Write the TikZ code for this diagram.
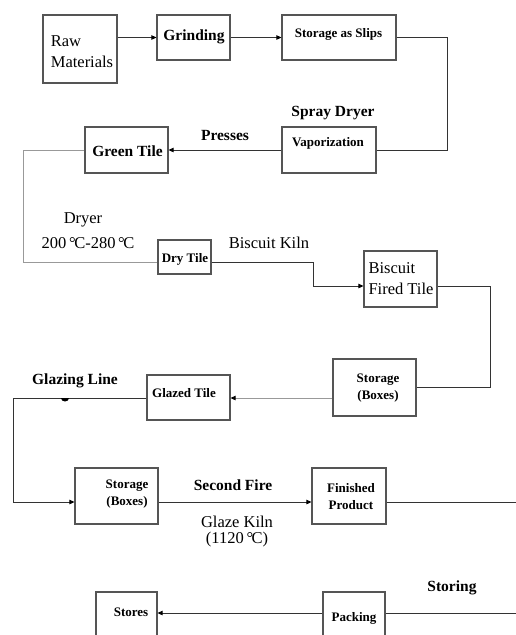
\documentclass[tikz,border=0pt]{standalone}
\usepackage{fontspec}
\setmainfont{Liberation Serif}
\usetikzlibrary{arrows.meta}
\definecolor{boxgray}{HTML}{555555}
\definecolor{linegray}{HTML}{333333}
\definecolor{lightline}{HTML}{999999}
\begin{document}
\begin{tikzpicture}[x=1pt,y=-1pt,
  box/.style={draw=boxgray, line width=1.2pt, inner sep=0pt},
  conn/.style={draw=linegray, line width=1pt},
  lightconn/.style={draw=lightline, line width=1pt},
  arr/.style={-{Triangle[length=5pt,width=4.5pt,color=black]}},
  reg/.style={font=\fontsize{16.5}{21}\selectfont},
  bigb/.style={font=\fontsize{15.5}{20}\selectfont\bfseries},
  smallb/.style={font=\fontsize{13}{17}\selectfont\bfseries},
  txt/.style={inner sep=0pt, align=center, text=black}
]
\useasboundingbox (0,0) rectangle (516,635);
\clip (0,0) rectangle (516,635);
\fill[white] (0,0) rectangle (516,635);

% boxes
\node[box, minimum width=74pt, minimum height=68pt] (raw) at (80,49) {};
\node[box, minimum width=73pt, minimum height=45pt] (grind) at (193.5,37.5) {};
\node[box, minimum width=114pt, minimum height=45pt] (slips) at (339,37.5) {};
\node[box, minimum width=94pt, minimum height=46pt] (vap) at (329,150) {};
\node[box, minimum width=83pt, minimum height=46pt] (green) at (126.5,150) {};
\node[box, minimum width=53pt, minimum height=34pt] (dry) at (184.5,257) {};
\node[box, minimum width=73pt, minimum height=56pt] (bft) at (400.5,279) {};
\node[box, minimum width=83pt, minimum height=57pt] (stor1) at (374.5,387.5) {};
\node[box, minimum width=83pt, minimum height=45pt] (glazed) at (188.5,397.5) {};
\node[box, minimum width=83pt, minimum height=56pt] (stor2) at (116.5,496) {};
\node[box, minimum width=74pt, minimum height=56pt] (fin) at (349,496) {};
\node[box, minimum width=61pt, minimum height=68pt] (stores) at (126.5,626) {};
\node[box, minimum width=62pt, minimum height=68pt] (pack) at (354,626) {};

% box texts
\node[txt, reg, align=left] (traw) at (82,51.5) {Raw\\Materials};
\node[txt, bigb] (tgrind) at (194,37) {Grinding};
\node[txt, smallb] (tslips) at (338.5,34) {Storage as Slips};
\node[txt, smallb] (tvap) at (328,143) {Vaporization};
\node[txt, bigb] (tgreen) at (127.5,151) {Green Tile};
\node[txt, smallb] (tdry) at (185,259) {Dry Tile};
\node[txt, reg, align=left] (tbft) at (401,278.5) {Biscuit\\Fired Tile};
\node[txt, smallb] (tstor1) at (378,388.5) {Storage\\(Boxes)};
\node[txt, smallb] (tglazed) at (184,393) {Glazed Tile};
\node[txt, smallb] (tstor2) at (127,494) {Storage\\(Boxes)};
\node[txt, smallb] (tfin) at (351,496.5) {Finished\\Product};
\node[txt, smallb] (tstores) at (131,612) {Stores};
\node[txt, smallb] (tpack) at (354,618) {Packing};

% labels
\node[txt, bigb] (lspray) at (333,113) {Spray Dryer};
\node[txt, bigb] (lpress) at (225,135) {Presses};
\node[txt, reg] (ldryer) at (83,220) {Dryer};
\node[txt, reg] (ltemp) at (88,243) {200\,°\kern-1.5pt C-280\,°\kern-1.5pt C};
\node[txt, reg] (lbk) at (269,243) {Biscuit Kiln};
\node[txt, bigb] (lglazing) at (75,381) {Glazing Line};
\node[txt, bigb] (lsecond) at (233,485) {Second Fire};
\node[txt, reg] (lgk) at (237,522) {Glaze Kiln};
\node[txt, reg] (ltemp2) at (237,540) {(1120\,°\kern-1.5pt C)};
\node[txt, bigb] (lstoring) at (452,588) {Storing};

% connector corners
\coordinate (c1) at (447,37.5);
\coordinate (c2) at (23,262);
\coordinate (c3) at (313,286);
\coordinate (c4) at (490,387);
\coordinate (c5) at (13,398);
\coordinate (c6) at (13,502);
\coordinate (e1) at (516,502);
\coordinate (e2) at (516,613);
\coordinate (dot) at (65,398);

% connectors
\draw[conn,arr] (raw.east |- grind.west) -- (grind.west);
\draw[conn,arr] (grind) -- (slips);
\draw[conn] (slips.east) -- (c1) |- (vap.east);
\draw[conn,arr] (vap) -- (green);
\draw[lightconn] (green.west) -| (c2) -- (dry.west |- c2);
\draw[conn,arr] (dry.east |- c2) -| (c3) -- (bft.west |- c3);
\draw[conn] (bft.east |- c3) -| (c4) -- (stor1.east |- c4);
\draw[lightconn,arr] (stor1.west |- c5) -- (glazed.east |- c5);
\draw[conn,arr] (glazed.west |- c5) -- (c5) -- (c6) -- (stor2.west |- c6);
\fill[black] (dot) ++(-4,0) arc[start angle=180, end angle=0, x radius=4, y radius=3.5] -- cycle;
\draw[conn,arr] (stor2.east |- c6) -- (fin.west |- c6);
\draw[conn] (fin.east |- e1) -- (e1);
\draw[conn] (e2) -- (pack.east |- e2);
\draw[conn,arr] (pack.west |- e2) -- (stores.east |- e2);
\end{tikzpicture}
\end{document}
